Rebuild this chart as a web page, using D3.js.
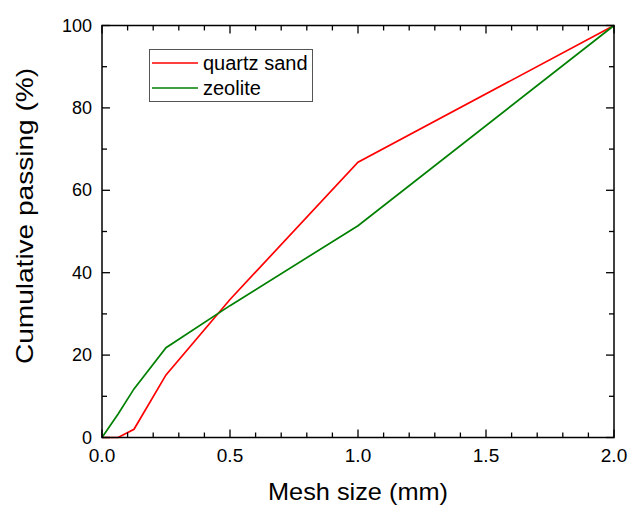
<!DOCTYPE html>
<html>
<head>
<meta charset="utf-8">
<script src="https://cdn.jsdelivr.net/npm/d3@7"></script>
<style>
  body { margin: 0; background: #fff; }
  svg { display: block; font-family: "Liberation Sans", Arial, sans-serif; }
</style>
</head>
<body>
<svg id="chart" width="628" height="507"></svg>
<script>
// mesh sizes (mm)
var sizes = [0, 0.063, 0.125, 0.25, 0.5, 1, 2];
// cumulative passing (%)
var quartzSand = [0, 0, 2, 15.2, 33.5, 66.8, 100];
var zeolite = [0, 5.7, 11.8, 21.8, 32, 51.4, 100];

var seriesNames = ["quartz sand", "zeolite"];
var seriesColors = ["#ff0000", "#008000"];

var xTicks = [0, 0.5, 1, 1.5, 2];
var yTicks = [0, 20, 40, 60, 80, 100];

var svg = d3.select("#chart");
var pLeft = 102, pRight = 614, pTop = 25.5, pBottom = 437.5;

var x = d3.scaleLinear().domain([0, 2]).range([pLeft, pRight]);
var y = d3.scaleLinear().domain([0, 100]).range([pBottom, pTop]);

var series = [quartzSand, zeolite];

var line = d3.line()
  .x(function(d, i) { return x(sizes[i]); })
  .y(function(d) { return y(d); });

// data lines
series.forEach(function(vals, k) {
  svg.append("path")
    .attr("d", line(vals))
    .attr("fill", "none")
    .attr("stroke", seriesColors[k])
    .attr("stroke-width", 1.7);
});

// frame
svg.append("rect")
  .attr("x", pLeft).attr("y", pTop)
  .attr("width", pRight - pLeft).attr("height", pBottom - pTop)
  .attr("fill", "none").attr("stroke", "#000").attr("stroke-width", 1.5);

// ticks (inward on all sides)
var xMinor = d3.range(0, 2.001, 0.1);
var yMinor = d3.range(0, 100.1, 10);
var tickG = svg.append("g").attr("stroke", "#000").attr("stroke-width", 1.3);

xMinor.forEach(function(v) {
  var major = Math.abs(v * 2 - Math.round(v * 2)) < 1e-6;
  var len = major ? 8 : 5;
  tickG.append("line").attr("x1", x(v)).attr("x2", x(v)).attr("y1", pBottom).attr("y2", pBottom - len);
  tickG.append("line").attr("x1", x(v)).attr("x2", x(v)).attr("y1", pTop).attr("y2", pTop + len);
});
yMinor.forEach(function(v) {
  var major = v % 20 === 0;
  var len = major ? 8 : 5;
  tickG.append("line").attr("x1", pLeft).attr("x2", pLeft + len).attr("y1", y(v)).attr("y2", y(v));
  tickG.append("line").attr("x1", pRight).attr("x2", pRight - len).attr("y1", y(v)).attr("y2", y(v));
});

// tick labels
svg.append("g").selectAll("text")
  .data(xTicks).enter().append("text")
  .attr("x", function(d) { return x(d); })
  .attr("y", pBottom + 24)
  .attr("text-anchor", "middle")
  .attr("font-size", 19)
  .text(function(d) { return d.toFixed(1); });

svg.append("g").selectAll("text")
  .data(yTicks).enter().append("text")
  .attr("x", pLeft - 10)
  .attr("y", function(d) { return y(d) + 6; })
  .attr("text-anchor", "end")
  .attr("font-size", 18)
  .text(function(d) { return d; });

// axis titles
svg.append("text")
  .attr("x", 358)
  .attr("y", 500)
  .attr("text-anchor", "middle")
  .attr("font-size", 24)
  .attr("textLength", 180)
  .attr("lengthAdjust", "spacingAndGlyphs")
  .text("Mesh size (mm)");

svg.append("text")
  .attr("transform", "translate(33,216) rotate(-90)")
  .attr("text-anchor", "middle")
  .attr("font-size", 24)
  .attr("textLength", 296)
  .attr("lengthAdjust", "spacingAndGlyphs")
  .text("Cumulative passing (%)");

// legend
var lg = svg.append("g");
lg.append("rect")
  .attr("x", 149.5).attr("y", 49.5).attr("width", 163).attr("height", 52)
  .attr("fill", "#fff").attr("stroke", "#555").attr("stroke-width", 1);
seriesNames.forEach(function(name, k) {
  var yy = 63 + k * 25;
  lg.append("line")
    .attr("x1", 152).attr("x2", 198).attr("y1", yy).attr("y2", yy)
    .attr("stroke", seriesColors[k]).attr("stroke-width", 1.7);
  lg.append("text")
    .attr("x", 203).attr("y", yy + 7)
    .attr("font-size", 20)
    .text(name);
});
</script>
</body>
</html>
